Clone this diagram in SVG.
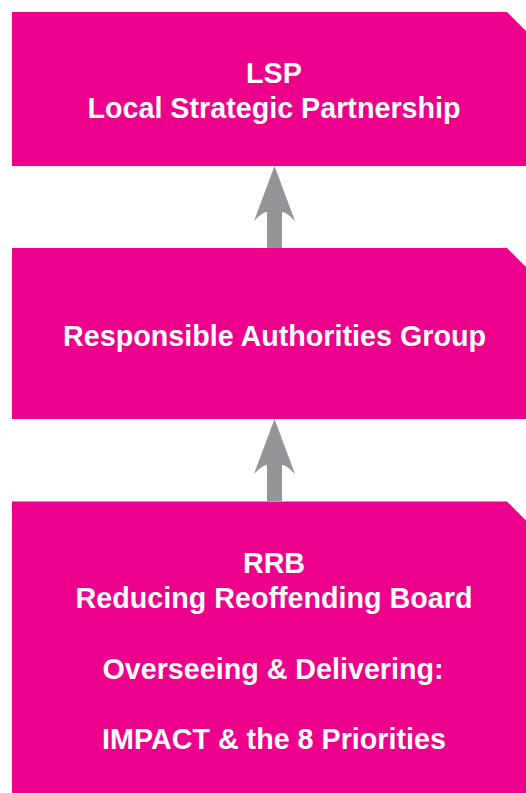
<svg xmlns="http://www.w3.org/2000/svg" width="526" height="793" viewBox="0 0 526 793">
  <style>
    .box { fill: #EC008C; }
    .label { fill: #FFFFFF; font-family: "Liberation Sans", Arial, Helvetica, sans-serif; font-weight: bold; font-size: 28.7px; text-anchor: middle; }
    .arrow { fill: #939598; }
  </style>
  <defs>
    <!-- upward block arrow with swept-back barbs; tip at origin -->
    <path id="up-arrow" class="arrow" d="M0,0 L20.5,55 Q12,46 7.5,46 L7.5,82 L-7.5,82 L-7.5,46 Q-12,46 -20.5,55 Z"/>
  </defs>
  <rect width="526" height="793" fill="#FFFFFF"/>

  <g id="connectors">
    <use href="#up-arrow" x="274.5" y="166"/>
    <use href="#up-arrow" x="274.5" y="419"/>
  </g>

  <g id="lsp">
    <path class="box" d="M12,12 L507,12 L526,31 L526,166 L12,166 Z"/>
    <text class="label" x="274" y="82.5">LSP</text>
    <text class="label" x="274" y="118">Local Strategic Partnership</text>
  </g>

  <g id="rag">
    <path class="box" d="M12,248 L507,248 L526,267 L526,419 L12,419 Z"/>
    <text class="label" x="274.5" y="346">Responsible Authorities Group</text>
  </g>

  <g id="rrb">
    <path class="box" d="M12,501.5 L507,501.5 L526,520.5 L526,793 L12,793 Z"/>
    <text class="label" x="274" y="572.5">RRB</text>
    <text class="label" x="274" y="608">Reducing Reoffending Board</text>
    <text class="label" x="273" y="678.5">Overseeing &amp; Delivering:</text>
    <text class="label" x="274" y="748.5">IMPACT &amp; the 8 Priorities</text>
  </g>
</svg>
